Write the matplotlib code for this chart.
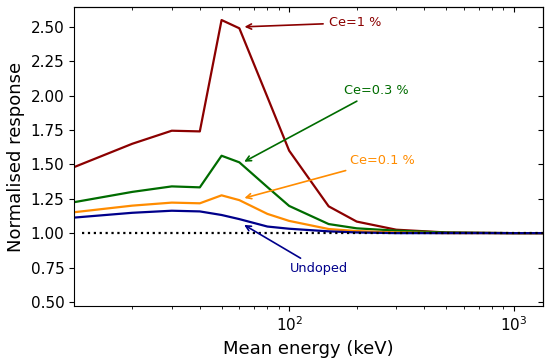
import matplotlib
matplotlib.use("Agg")
import matplotlib.pyplot as plt
from matplotlib.ticker import FormatStrFormatter

# mean beam energies (keV)
energy = [11, 20, 30, 40, 50, 60, 80, 100, 150, 200, 300, 500, 1000, 1350]

ce_1 = [1.48, 1.65, 1.745, 1.74, 2.55, 2.49, 1.99, 1.60, 1.195, 1.084, 1.025, 1.005, 1.0, 1.0]
ce_03 = [1.225, 1.30, 1.34, 1.333, 1.563, 1.515, 1.335, 1.198, 1.066, 1.035, 1.018, 1.004, 1.0, 1.0]
ce_01 = [1.152, 1.20, 1.222, 1.217, 1.275, 1.24, 1.14, 1.089, 1.03, 1.015, 1.005, 1.0, 1.0, 1.0]
undoped = [1.113, 1.148, 1.163, 1.158, 1.132, 1.102, 1.048, 1.032, 1.013, 1.005, 1.0, 1.0, 1.0, 1.0]

ref_x = [12, 1350]
ref_y = [1.0, 1.0]

fig = plt.figure(figsize=(5.5, 3.6), dpi=100)
ax = fig.add_axes([0.1345, 0.15, 0.8525, 0.8306])

ax.plot(energy, ce_1, color="darkred", lw=1.6)
ax.plot(energy, ce_03, color="#006c00", lw=1.6)
ax.plot(energy, ce_01, color="darkorange", lw=1.6)
ax.plot(energy, undoped, color="darkblue", lw=1.6)
ax.plot(ref_x, ref_y, color="black", ls=":", lw=1.6)

ax.set_xscale("log")
ax.set_xlim(energy[0], energy[-1])
ax.set_ylim(0.47, 2.645)
ax.set_yticks([0.5, 0.75, 1.0, 1.25, 1.5, 1.75, 2.0, 2.25, 2.5])
ax.yaxis.set_major_formatter(FormatStrFormatter("%.2f"))
ax.tick_params(labelsize=11)

ax.set_xlabel("Mean energy (keV)", fontsize=13)
ax.set_ylabel("Normalised response", fontsize=13)

# inward ticks on top and right, no labels
top = ax.secondary_xaxis("top")
top.tick_params(which="both", direction="in", labeltop=False)
right = ax.secondary_yaxis("right")
right.set_yticks([0.5, 0.75, 1.0, 1.25, 1.5, 1.75, 2.0, 2.25, 2.5])
right.tick_params(direction="in", labelright=False)

ap = dict(arrowstyle="->", lw=1.2)
ax.annotate("Ce=1 %", xy=(61.5, 2.50), xytext=(150, 2.531), ha="left", va="center",
            color="darkred", fontsize=9.3, arrowprops=dict(ap, color="darkred"))
ax.annotate("Ce=0.3 %", xy=(61.5, 1.51), xytext=(176, 2.037), ha="left", va="center",
            color="#006c00", fontsize=9.3, arrowprops=dict(ap, color="#006c00"))
ax.annotate("Ce=0.1 %", xy=(61.5, 1.25), xytext=(187, 1.528), ha="left", va="center",
            color="darkorange", fontsize=9.3, arrowprops=dict(ap, color="darkorange"))
ax.annotate("Undoped", xy=(61.5, 1.07), xytext=(100.5, 0.74), ha="left", va="center",
            color="darkblue", fontsize=9.3, arrowprops=dict(ap, color="darkblue"))

fig.savefig("out.png", dpi=100)
